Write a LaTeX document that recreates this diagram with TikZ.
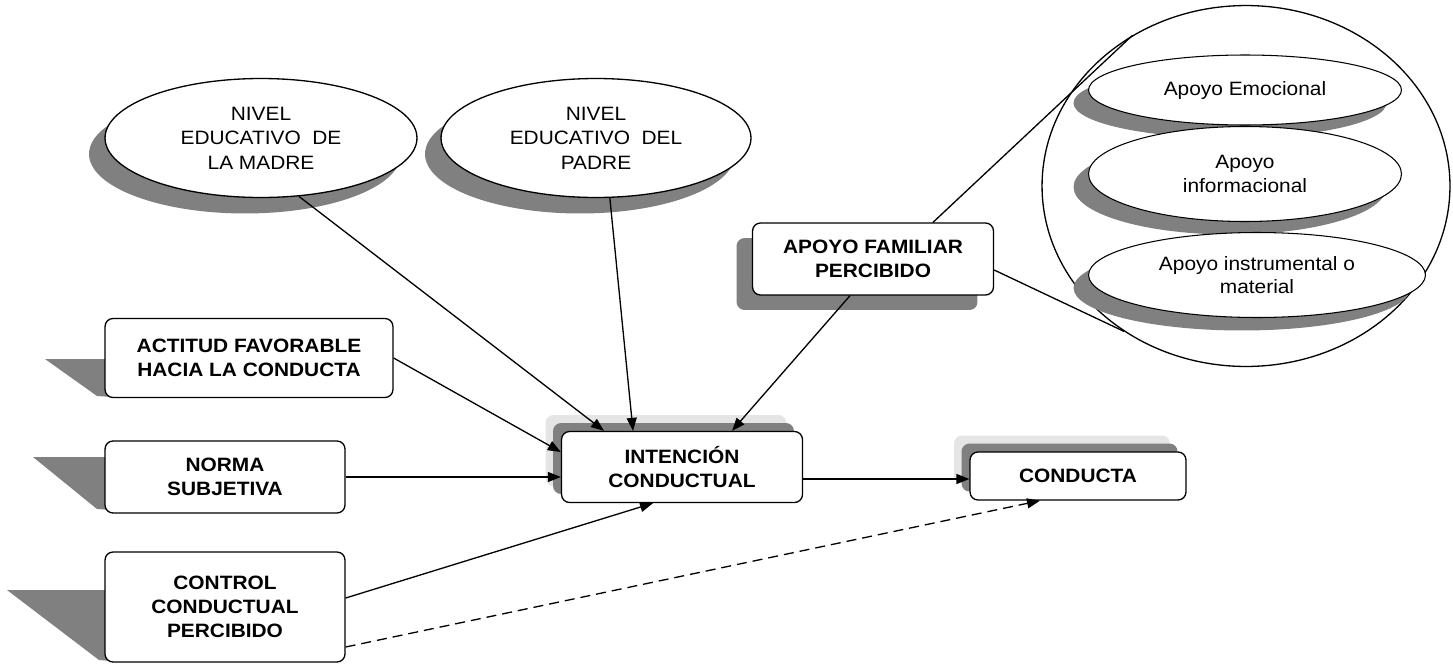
\documentclass[tikz,border=0pt]{standalone}
\usepackage{fontspec}
\setmainfont[FakeStretch=1.08]{Liberation Sans}
\usetikzlibrary{shapes.geometric,shadows,arrows.meta}

\begin{document}
\begin{tikzpicture}[x=0.02cm,y=-0.02cm,
	box/.style={draw,line width=0.75pt,rounded corners=0.16cm,fill=white,align=center,inner sep=0pt,
		font=\fontsize{11}{13.6}\selectfont\bfseries},
	oval/.style={ellipse,draw,line width=0.75pt,fill=white,align=center,inner sep=0pt,
		font=\fontsize{11}{13.9}\selectfont,
		drop shadow={opacity=1,fill=black!50,shadow xshift=-0.32cm,shadow yshift=-0.32cm}},
	facet/.style={ellipse,draw,line width=0.6pt,fill=white,align=center,inner sep=0pt,
		font=\fontsize{11}{13.2}\selectfont,
		drop shadow={opacity=1,fill=black!50,shadow xshift=-0.3cm,shadow yshift=-0.26cm}},
	layered/.style={general shadow={fill=black!10,shadow xshift=-0.32cm,shadow yshift=0.33cm},
		general shadow={fill=black!50,shadow xshift=-0.17cm,shadow yshift=0.17cm}},
	skew/.style={fill=black!50},
	link/.style={line width=0.75pt,-{Triangle[length=0.26cm,width=0.2cm]}},
]
\useasboundingbox (0,0) rectangle (1453,663);

% apoyo familiar, ampliado
\node[ellipse,draw,line width=0.75pt,fill=white,minimum width=8.16cm,minimum height=7.22cm] (circ) at (1246,186) {};
\node[facet,minimum width=6.26cm,minimum height=1.4cm] (emocional) at (1245,90) {Apoyo Emocional};
\node[facet,minimum width=6.26cm,minimum height=1.9cm] (informacional) at (1245,174) {Apoyo\\informacional};
\node[facet,minimum width=6.74cm,minimum height=1.7cm] (instrumental) at (1257,275) {Apoyo instrumental o\\material};

% nivel educativo
\node[oval,minimum width=6.24cm,minimum height=2.38cm] (madre) at (261,138) {NIVEL\\EDUCATIVO\ \ DE\\LA MADRE};
\node[oval,minimum width=6.2cm,minimum height=2.38cm] (padre) at (596,138) {NIVEL\\EDUCATIVO\ \ DEL\\PADRE};

% sombras en perspectiva
\fill[skew] (45,359) -- (112,359) -- (112,397) -- (97,396) -- cycle;
\fill[skew] (33,457) -- (112,457) -- (112,510) -- (97,509) -- cycle;
\fill[skew] (7,590) -- (112,590) -- (112,661) -- (99,660) -- cycle;

\node[box,minimum width=5.76cm,minimum height=1.58cm] (actitud) at (249,358) {ACTITUD FAVORABLE\\HACIA LA CONDUCTA};
\node[box,minimum width=4.8cm,minimum height=1.44cm] (norma) at (225,477) {NORMA\\SUBJETIVA};
\node[box,minimum width=4.8cm,minimum height=2.2cm] (control) at (225,607) {CONTROL\\CONDUCTUAL\\PERCIBIDO};
\node[box,layered,minimum width=4.82cm,minimum height=1.42cm] (intencion) at (682,467) {INTENCIÓN\\CONDUCTUAL};
\node[box,layered,minimum width=4.32cm,minimum height=0.96cm] (conducta) at (1078,476) {CONDUCTA};
\node[box,drop shadow={opacity=1,fill=black!50,shadow xshift=-0.32cm,shadow yshift=-0.3cm},
	minimum width=4.82cm,minimum height=1.44cm] (apoyo) at (873,259) {APOYO FAMILIAR\\PERCIBIDO};

% lupa
\draw[line width=0.75pt] ([xshift=1.2cm]apoyo.north) -- (circ.127.5);
\draw[line width=0.75pt] ([yshift=-0.22cm]apoyo.east) -- (circ.230);

% flechas
\draw[link] (madre.-57) -- ([xshift=-1.56cm]intencion.north);
\draw[link] (padre.-77) -- ([xshift=-0.98cm]intencion.north);
\draw[link] ([xshift=-0.46cm]apoyo.south) -- ([xshift=1cm]intencion.north);
\draw[link] (actitud.east) -- ([yshift=0.3cm]intencion.west);
\draw[link] (norma.east) -- (norma.east -| intencion.west);
\draw[link] ([yshift=0.18cm]control.east) -- ([xshift=-0.58cm]intencion.south);
\draw[link] ([yshift=-0.24cm]intencion.east) coordinate (ic) -- (ic -| conducta.west);
\draw[link,dash pattern=on 0.2cm off 0.12cm] ([yshift=-0.8cm]control.east) -- ([xshift=-0.76cm]conducta.south);
\end{tikzpicture}
\end{document}
